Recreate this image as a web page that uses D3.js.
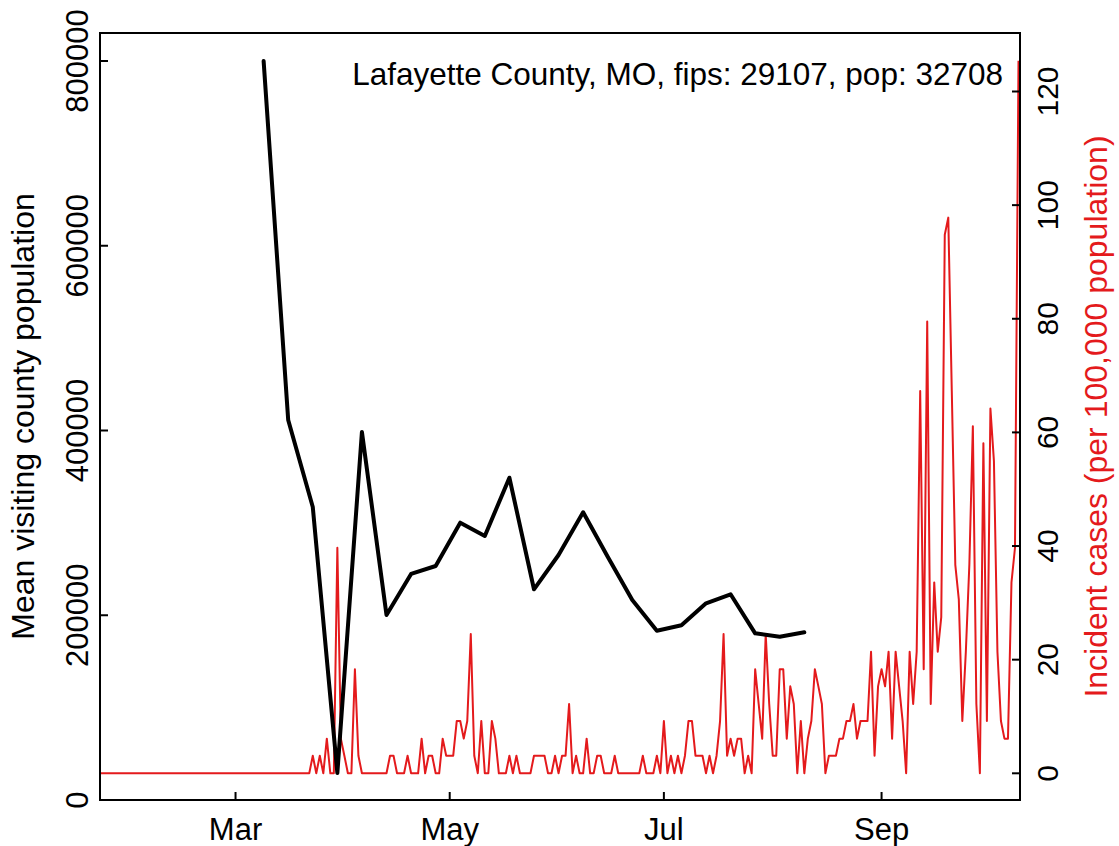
<!DOCTYPE html>
<html>
<head>
<meta charset="utf-8">
<script src="https://cdn.jsdelivr.net/npm/d3@7"></script>
<style>
  html, body { margin: 0; padding: 0; background: #ffffff; }
  svg { display: block; }
  text { font-family: "Liberation Sans", Arial, Helvetica, sans-serif; }
</style>
</head>
<body>
<div id="chart"></div>
<script>
// ---------------- data ----------------
const chartTitle = "Lafayette County, MO, fips: 29107, pop: 32708";
const leftAxisTitle = "Mean visiting county population";
const rightAxisTitle = "Incident cases (per 100,000 population)";

// weekly mean visiting county population (black line), starting 2020-03-09
const mobilityStart = "2020-03-09";
const mobilityValues = [
  800000, 411400, 317200, 29200, 398400, 200300, 244700, 253300,
  300200, 285800, 348900, 228100, 265200, 311400, 263400, 216500,
  183300, 189100, 212900, 222700, 180400, 176800, 181500
];

// daily incident cases per 100,000 (red line), starting 2020-01-22
const casesStart = "2020-01-22";
const incidentValues = [
  0,0,0,0,0,0,0,0,0,0, 0,0,0,0,0,0,0,0,0,0,
  0,0,0,0,0,0,0,0,0,0, 0,0,0,0,0,0,0,0,0,0,
  0,0,0,0,0,0,0,0,0,0, 0,0,0,0,0,0,0,0,0,0,
  0, 3.1, 0, 3.1, 0, 6.1, 0, 0, 39.7, 6.1,
  3.1, 0, 0, 18.3, 3.1, 0, 0, 0, 0, 0,
  0, 0, 0, 3.1, 3.1, 0, 0, 0, 3.1, 0,
  0, 0, 6.1, 0, 3.1, 3.1, 0, 0, 6.1, 3.1,
  3.1, 3.1, 9.2, 9.2, 6.1, 9.2, 24.5, 3.1, 0, 9.2,
  0, 0, 9.2, 6.1, 0, 0, 0, 3.1, 0, 3.1,
  0, 0, 0, 0, 3.1, 3.1, 3.1, 3.1, 0, 0,
  3.1, 0, 3.1, 3.1, 12.2, 0, 3.1, 0, 0, 6.1,
  0, 0, 3.1, 3.1, 0, 0, 0, 3.1, 0, 0,
  0, 0, 0, 0, 0, 3.1, 0, 0, 0, 3.1,
  0, 9.2, 0, 3.1, 0, 3.1, 0, 3.1, 9.2, 9.2,
  3.1, 3.1, 3.1, 0, 3.1, 0, 3.1, 9.2, 24.5, 3.1,
  6.1, 3.1, 6.1, 6.1, 0, 3.1, 0, 18.3, 12.2, 6.1,
  24.5, 12.2, 3.1, 3.1, 18.3, 18.3, 6.1, 15.3, 12.2, 0,
  9.2, 0, 6.1, 9.2, 18.3, 15.3, 12.2, 0, 3.1, 3.1,
  3.1, 6.1, 6.1, 9.2, 9.2, 12.2, 6.1, 9.2, 9.2, 9.2,
  21.4, 3.1, 15.3, 18.3, 15.3, 21.4, 6.1, 21.4, 15.3, 9.2,
  0, 21.4, 12.2, 21.4, 67.3, 18.3, 79.5, 12.2, 33.6, 21.4,
  27.5, 94.8, 97.8, 67.3, 36.7, 30.6, 9.2, 21.4, 36.7, 61.1,
  12.2, 0, 58.1, 9.2, 64.2, 55.0, 21.4, 9.2, 6.1, 6.1,
  33.6, 39.7, 125.4
];

const xTickDates = ["2020-03-01", "2020-05-01", "2020-07-01", "2020-09-01"];
const xTickLabels = ["Mar", "May", "Jul", "Sep"];
const leftTicks = [0, 200000, 400000, 600000, 800000];
const rightTicks = [0, 20, 40, 60, 80, 100, 120];

// ---------------- layout ----------------
const W = 1119, H = 846;
const plot = { left: 100, right: 1020, top: 33, bottom: 800 };
const redColor = "#e41a1c";
const fontTick = 31, fontTickR = 30, fontLab = 32, fontTitle = 31.5;

const parse = d3.utcParse("%Y-%m-%d");
const DAY = 86400000;
const mobilityData = mobilityValues.map((v, i) => ({ date: new Date(parse(mobilityStart).getTime() + i * 7 * DAY), v }));
const casesData = incidentValues.map((v, i) => ({ date: new Date(parse(casesStart).getTime() + i * DAY), v }));

const x = d3.scaleUtc()
  .domain([parse("2020-01-22"), parse("2020-10-10")])
  .range([98.6, 1018.5]);
const yL = d3.scaleLinear().domain([0, 800000]).range([plot.bottom, 61]);
const yR = d3.scaleLinear().domain([0, 120]).range([773.3, 91.5]);

const svg = d3.select("#chart").append("svg")
  .attr("width", W).attr("height", H)
  .attr("viewBox", `0 0 ${W} ${H}`);
svg.append("rect").attr("width", W).attr("height", H).attr("fill", "#fff");

svg.append("defs").append("clipPath").attr("id", "clip")
  .append("rect")
  .attr("x", plot.left).attr("y", plot.top)
  .attr("width", plot.right - plot.left).attr("height", plot.bottom - plot.top);

// red incident line
svg.append("path")
  .datum(casesData)
  .attr("clip-path", "url(#clip)")
  .attr("fill", "none")
  .attr("stroke", redColor)
  .attr("stroke-width", 2)
  .attr("stroke-linejoin", "round")
  .attr("d", d3.line().x(d => x(d.date)).y(d => yR(d.v)));

// black mobility line
svg.append("path")
  .datum(mobilityData)
  .attr("fill", "none")
  .attr("stroke", "#000")
  .attr("stroke-width", 4)
  .attr("stroke-linejoin", "round")
  .attr("stroke-linecap", "round")
  .attr("d", d3.line().x(d => x(d.date)).y(d => yL(d.v)));

// box
svg.append("rect")
  .attr("x", plot.left).attr("y", plot.top)
  .attr("width", plot.right - plot.left).attr("height", plot.bottom - plot.top)
  .attr("fill", "none").attr("stroke", "#000").attr("stroke-width", 2);

// x axis ticks (inward) and labels
const xTicks = xTickDates.map(parse);
const gx = svg.append("g");
gx.selectAll("line").data(xTicks).join("line")
  .attr("x1", d => x(d)).attr("x2", d => x(d))
  .attr("y1", plot.bottom).attr("y2", plot.bottom - 8)
  .attr("stroke", "#000").attr("stroke-width", 2);
gx.selectAll("text").data(xTicks).join("text")
  .attr("x", d => x(d)).attr("y", 840)
  .attr("text-anchor", "middle")
  .attr("font-size", fontTick)
  .text((d, i) => xTickLabels[i]);

// left axis
const gl = svg.append("g");
gl.selectAll("line").data(leftTicks).join("line")
  .attr("x1", plot.left).attr("x2", plot.left + 8)
  .attr("y1", d => yL(d)).attr("y2", d => yL(d))
  .attr("stroke", "#000").attr("stroke-width", 2);
gl.selectAll("text").data(leftTicks).join("text")
  .attr("transform", d => `translate(88,${yL(d)}) rotate(-90)`)
  .attr("text-anchor", "middle")
  .attr("font-size", fontTick)
  .text(d => d3.format("d")(d));

// right axis
const gr = svg.append("g");
gr.selectAll("line").data(rightTicks).join("line")
  .attr("x1", plot.right).attr("x2", plot.right - 8)
  .attr("y1", d => yR(d)).attr("y2", d => yR(d))
  .attr("stroke", "#000").attr("stroke-width", 2);
gr.selectAll("text").data(rightTicks).join("text")
  .attr("transform", d => `translate(1058,${yR(d)}) rotate(-90)`)
  .attr("text-anchor", "middle")
  .attr("font-size", fontTickR)
  .text(d => d);

// axis titles
const midY = (plot.top + plot.bottom) / 2;
svg.append("text")
  .attr("transform", `translate(34,${midY}) rotate(-90)`)
  .attr("text-anchor", "middle")
  .attr("font-size", fontLab)
  .text(leftAxisTitle);
svg.append("text")
  .attr("transform", `translate(1107,${midY}) rotate(-90)`)
  .attr("text-anchor", "middle")
  .attr("font-size", fontLab)
  .attr("fill", redColor)
  .text(rightAxisTitle);

// chart title (inside plot, top-right)
svg.append("text")
  .attr("x", 1003).attr("y", 85)
  .attr("text-anchor", "end")
  .attr("font-size", fontTitle)
  .text(chartTitle);
</script>
</body>
</html>
